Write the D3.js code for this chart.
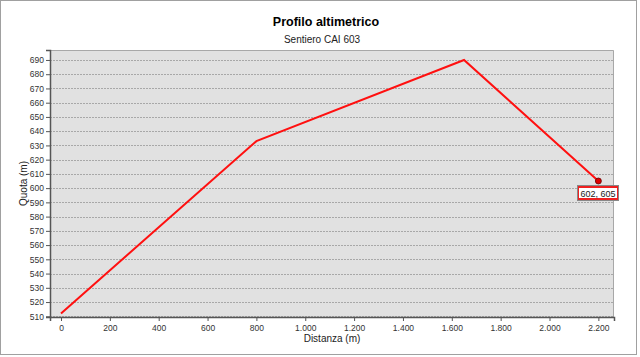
<!DOCTYPE html>
<html>
<head>
<meta charset="utf-8">
<script src="https://cdn.jsdelivr.net/npm/d3@7"></script>
<style>
  body { margin: 0; background: #fff; }
  svg { display: block; font-family: "Liberation Sans", Arial, sans-serif; }
</style>
</head>
<body>
<svg id="chart" width="640" height="357"></svg>
<script>
'use strict';

// Profile data: distance (m) and elevation (m)
const distances  = [0, 800, 1650, 2200];
const elevations = [512, 633, 690, 605];
const xTicks     = [0, 200, 400, 600, 800, 1000, 1200, 1400, 1600, 1800, 2000, 2200];
const yTicks     = [510, 520, 530, 540, 550, 560, 570, 580, 590, 600, 610, 620, 630, 640, 650, 660, 670, 680, 690];
const endLabel   = '602, 605';

const W = 640, H = 357;
const plot = { left: 50, right: 614, top: 50, bottom: 317 };

const svg = d3.select('#chart');

// Outer frame
svg.append('rect')
  .attr('x', 0.5).attr('y', 0.5)
  .attr('width', W - 4).attr('height', H - 3)
  .attr('fill', '#fff').attr('stroke', '#a0a0a0');

const x = d3.scaleLinear().domain([-45, 2264]).range([plot.left, plot.right]);
const y = d3.scaleLinear().domain([509.5, 697]).range([plot.bottom, plot.top]);

const fmt = d => d3.format(',')(d).replace(/,/g, '.');

// ── Plot area ─────────────────────────────────────────────────
svg.append('rect')
  .attr('x', plot.left).attr('y', plot.top)
  .attr('width', plot.right - plot.left).attr('height', plot.bottom - plot.top)
  .attr('fill', '#e1e1e1');

svg.append('g').selectAll('line')
  .data(yTicks)
  .join('line')
    .attr('x1', plot.left).attr('x2', plot.right)
    .attr('y1', d => Math.round(y(d)) + 0.5).attr('y2', d => Math.round(y(d)) + 0.5)
    .attr('stroke', '#a8a8a8')
    .attr('stroke-dasharray', '2,1');

// top / right border
svg.append('path')
  .attr('d', `M${plot.left},${plot.top + 0.5}H${plot.right - 0.5}V${plot.bottom}`)
  .attr('fill', 'none').attr('stroke', '#a8a8a8');

// ── Axes ──────────────────────────────────────────────────────
const yAxis = svg.append('g')
  .attr('transform', `translate(${plot.left},0)`)
  .call(d3.axisLeft(y).tickValues(yTicks).tickSize(4).tickPadding(2));

const xAxis = svg.append('g')
  .attr('transform', `translate(0,${plot.bottom})`)
  .call(d3.axisBottom(x).tickValues(xTicks).tickFormat(fmt).tickSize(4).tickPadding(4));

[xAxis, yAxis].forEach(g => {
  g.select('.domain').attr('stroke', '#555').attr('stroke-width', 1.5);
  g.selectAll('.tick line').attr('stroke', '#555');
  g.selectAll('.tick text').attr('fill', '#333').style('font-size', '8.5px');
});

// ── Titles ────────────────────────────────────────────────────
svg.append('text')
  .attr('x', 326).attr('y', 26)
  .attr('text-anchor', 'middle')
  .style('font-size', '12.5px').style('font-weight', 'bold')
  .text('Profilo altimetrico');

svg.append('text')
  .attr('x', 322).attr('y', 43)
  .attr('text-anchor', 'middle')
  .style('font-size', '10px').attr('fill', '#222')
  .text('Sentiero CAI 603');

svg.append('text')
  .attr('x', (plot.left + plot.right) / 2).attr('y', 342)
  .attr('text-anchor', 'middle')
  .style('font-size', '10px').attr('fill', '#222')
  .text('Distanza (m)');

svg.append('text')
  .attr('transform', `translate(27,${(plot.top + plot.bottom) / 2}) rotate(-90)`)
  .attr('text-anchor', 'middle')
  .style('font-size', '10px').attr('fill', '#222')
  .text('Quota (m)');

// ── Profile line ──────────────────────────────────────────────
const pts = distances.map((d, i) => [d, elevations[i]]);

svg.append('path')
  .datum(pts)
  .attr('d', d3.line().x(d => x(d[0])).y(d => y(d[1])))
  .attr('fill', 'none')
  .attr('stroke', '#ff1010')
  .attr('stroke-width', 2);

// End marker + label
const last = pts[pts.length - 1];
svg.append('circle')
  .attr('cx', x(last[0])).attr('cy', y(last[1]))
  .attr('r', 3)
  .attr('fill', '#e00000').attr('stroke', '#600').attr('stroke-width', 0.8);

const lb = { x: Math.round(x(last[0])) - 21, y: Math.round(y(last[1])) + 4, w: 41, h: 15 };
svg.append('rect')
  .attr('x', lb.x + 0.5).attr('y', lb.y + 0.5).attr('width', lb.w).attr('height', lb.h)
  .attr('fill', '#ee2020').attr('stroke', '#888');
svg.append('rect')
  .attr('x', lb.x + 2).attr('y', lb.y + 3).attr('width', lb.w - 3).attr('height', lb.h - 5)
  .attr('fill', '#fff');
svg.append('text')
  .attr('x', lb.x + lb.w / 2 + 0.5).attr('y', lb.y + 11.5)
  .attr('text-anchor', 'middle')
  .style('font-size', '9px').attr('fill', '#222')
  .text(endLabel);
</script>
</body>
</html>
